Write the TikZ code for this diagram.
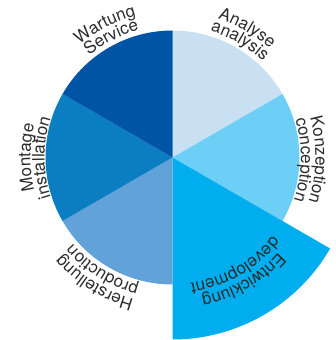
\documentclass[tikz,border=0pt]{standalone}
\usepackage{fontspec}
\setmainfont{TeX Gyre Heros}
\usepackage{xcolor}
\usepackage{tikz}
\usetikzlibrary{decorations.text}

\definecolor{analyse}{HTML}{C9E0F3}
\definecolor{konzept}{HTML}{6DCFF6}
\definecolor{entwickl}{HTML}{00AEEF}
\definecolor{herstell}{HTML}{61A3D9}
\definecolor{montage}{HTML}{0B7DC1}
\definecolor{wartung}{HTML}{0054A5}
\definecolor{lbltext}{HTML}{2B2B2B}

\newcommand{\lblfont}{\fontsize{17}{17}\selectfont\color{lbltext}}

\tikzset{
  lbl/.style={decorate,decoration={text along path,text={|\lblfont|#1},text align=center}}
}

\begin{document}
\begin{tikzpicture}[x=1pt,y=1pt]
	\useasboundingbox (0,0) rectangle (336,340);
	\begin{scope}[shift={(172.5,182.5)}]
	% sectors
	\fill[analyse] (0,0) -- (90:127) arc[start angle=90,end angle=30,radius=127] -- cycle;
	\fill[konzept] (0,0) -- (30:127) arc[start angle=30,end angle=-30,radius=127] -- cycle;
	\fill[entwickl] (0,0) -- (-30:182) arc[start angle=-30,end angle=-90,radius=182] -- cycle;
	\fill[herstell] (0,0) -- (-90:127) arc[start angle=-90,end angle=-150,radius=127] -- cycle;
	\fill[montage] (0,0) -- (210:127) arc[start angle=210,end angle=150,radius=127] -- cycle;
	\fill[wartung] (0,0) -- (150:127) arc[start angle=150,end angle=90,radius=127] -- cycle;
	% labels
	\path[lbl=Analyse] (100:146) arc[start angle=100,end angle=20,radius=146];
	\path[lbl=analysis] (100:132) arc[start angle=100,end angle=20,radius=132];
	\path[lbl=Konzeption] (40:143) arc[start angle=40,end angle=-42,radius=143];
	\path[lbl=conception] (40:128.5) arc[start angle=40,end angle=-42,radius=128.5];
	\path[lbl=Entwicklung] (-20:142) arc[start angle=-20,end angle=-100,radius=142];
	\path[lbl=development] (-20:127) arc[start angle=-20,end angle=-100,radius=127];
	\path[lbl=Herstellung] (-82:147) arc[start angle=-82,end angle=-162,radius=147];
	\path[lbl=production] (-82:132) arc[start angle=-82,end angle=-162,radius=132];
	\path[lbl=Montage] (220:142) arc[start angle=220,end angle=140,radius=142];
	\path[lbl=installation] (220:128) arc[start angle=220,end angle=140,radius=128];
	\path[lbl=Wartung] (157:146) arc[start angle=157,end angle=77,radius=146];
	\path[lbl=Service] (157:131.5) arc[start angle=157,end angle=77,radius=131.5];
	\end{scope}
\end{tikzpicture}
\end{document}
